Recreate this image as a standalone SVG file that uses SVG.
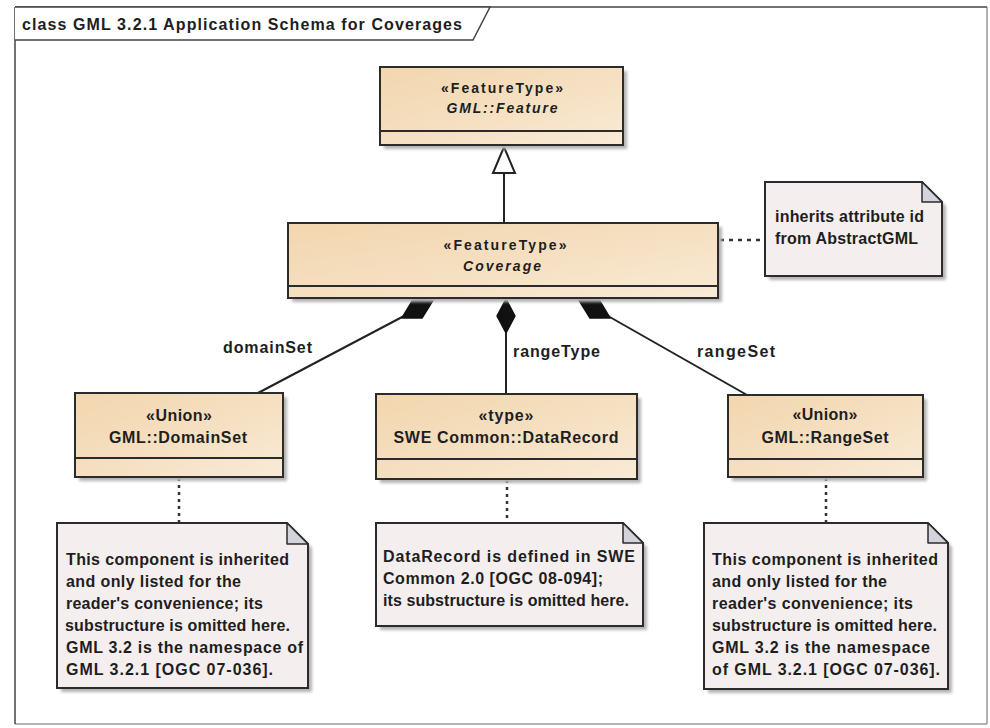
<svg xmlns="http://www.w3.org/2000/svg" width="990" height="728" viewBox="0 0 990 728">
  <defs>
    <linearGradient id="classFill" x1="0" y1="0" x2="1" y2="1">
      <stop offset="0" stop-color="#f2d6ae"/>
      <stop offset="0.6" stop-color="#f6e1c4"/>
      <stop offset="1" stop-color="#f9ebd7"/>
    </linearGradient>
    <filter id="soft" x="-10%" y="-10%" width="120%" height="120%">
      <feGaussianBlur stdDeviation="1.5"/>
    </filter>
    <style>
      .frame { fill: #ffffff; stroke: #444; stroke-width: 1.5; }
      .frameSoft { fill: none; stroke: #9a9a9a; stroke-width: 1.5; }
      .shadow { fill: #b4b4b4; filter: url(#soft); }
      .cls { fill: url(#classFill); stroke: #2b2b2b; stroke-width: 2; }
      .sep { stroke: #2b2b2b; stroke-width: 2; }
      .note { fill: #f4eeee; stroke: #2b2b2b; stroke-width: 2; }
      .ear { fill: #d3d3db; stroke: #2b2b2b; stroke-width: 1.5; stroke-linejoin: round; }
      .line { fill: none; stroke: #222; stroke-width: 2; }
      .dots { fill: none; stroke: #333; stroke-width: 2.5; stroke-dasharray: 3 4; }
      .diamond { fill: #111; stroke: #111; stroke-width: 1.5; stroke-linejoin: round; }
      .hollow { fill: #ffffff; stroke: #222; stroke-width: 2; }
      text { font-family: "Liberation Sans", Arial, sans-serif; font-weight: bold; fill: #1e1e1e; }
      .title { font-size: 16px; }
      .st { font-size: 14px; text-anchor: middle; }
      .nm { font-size: 16px; text-anchor: middle; }
      .it { font-style: italic; }
      .nt { font-size: 16px; }
      .lbl { font-size: 16px; }
    </style>
  </defs>

  <!-- diagram frame with name tab -->
  <g id="frame">
    <rect x="0" y="0" width="990" height="728" fill="#ffffff"/>
    <line class="frameSoft" x1="987" y1="7" x2="987" y2="724"/>
    <line class="frameSoft" x1="15" y1="724" x2="987" y2="724"/>
    <line class="frame" x1="15" y1="7" x2="987" y2="7"/>
    <line class="frame" x1="15" y1="7" x2="15" y2="724"/>
    <path class="frame" d="M15 7 L490 7 L473 40 L15 40"/>
    <text class="title" x="22" y="30" textLength="440">class GML 3.2.1 Application Schema for Coverages</text>
  </g>

  <!-- connectors -->
  <g id="connectors">
    <!-- generalization Coverage -> Feature -->
    <line class="line" x1="504" y1="223" x2="504" y2="173"/>
    <polygon class="hollow" points="504,147 493,173 515,173"/>

    <!-- composition: domainSet -->
    <line class="line" x1="258" y1="393" x2="404" y2="316"/>
    <polygon class="diamond" points="402,318 414,298 435,297 422,318"/>
    <!-- composition: rangeType -->
    <line class="line" x1="506" y1="333" x2="506" y2="394"/>
    <polygon class="diamond" points="506,299 497,316 506,333 515,316"/>
    <!-- composition: rangeSet -->
    <line class="line" x1="747" y1="395" x2="608" y2="316"/>
    <polygon class="diamond" points="610,318 598,298 577,297 590,318"/>

    <!-- note links -->
    <line class="dots" x1="720" y1="240" x2="765" y2="240" style="stroke-dasharray:4 5"/>
    <line class="dots" x1="179" y1="478" x2="179" y2="523"/>
    <line class="dots" x1="507" y1="480" x2="507" y2="523"/>
    <line class="dots" x1="826" y1="478" x2="826" y2="523"/>

    <!-- role names -->
    <text class="lbl" x="223" y="353" textLength="89">domainSet</text>
    <text class="lbl" x="513" y="357" textLength="87">rangeType</text>
    <text class="lbl" x="697" y="357" textLength="78">rangeSet</text>
  </g>

  <!-- GML::Feature -->
  <g id="feature">
    <rect class="shadow" x="384" y="71" width="243" height="78"/>
    <rect class="cls" x="380" y="67" width="243" height="78"/>
    <line class="sep" x1="380" y1="131" x2="623" y2="131"/>
    <text class="st" x="502" y="93" textLength="122">«FeatureType»</text>
    <text class="st it" x="502" y="113" textLength="111">GML::Feature</text>
  </g>

  <!-- Coverage -->
  <g id="coverage">
    <rect class="shadow" x="292" y="227" width="430" height="75"/>
    <rect class="cls" x="288" y="223" width="430" height="75"/>
    <line class="sep" x1="288" y1="286" x2="718" y2="286"/>
    <text class="st" x="505" y="250" textLength="123">«FeatureType»</text>
    <text class="st it" x="502" y="271" textLength="78">Coverage</text>
  </g>

  <!-- note on Coverage -->
  <g id="note-coverage">
    <path class="shadow" d="M769 186 H926 L946 206 V280 H769 Z"/>
    <path class="note" d="M765 182 H922 L942 202 V276 H765 Z"/>
    <path class="ear" d="M922 182 V202 H942 Z"/>
    <text class="nt" x="775" y="222" textLength="149">inherits attribute id</text>
    <text class="nt" x="775" y="244" textLength="143">from AbstractGML</text>
  </g>

  <!-- GML::DomainSet -->
  <g id="domainset">
    <rect class="shadow" x="79" y="397" width="208" height="84"/>
    <rect class="cls" x="75" y="393" width="208" height="84"/>
    <line class="sep" x1="75" y1="458" x2="283" y2="458"/>
    <text class="nm" x="179" y="421" textLength="66">«Union»</text>
    <text class="nm" x="178" y="443" textLength="138">GML::DomainSet</text>
  </g>

  <!-- SWE Common::DataRecord -->
  <g id="datarecord">
    <rect class="shadow" x="380" y="398" width="261" height="85"/>
    <rect class="cls" x="376" y="394" width="261" height="85"/>
    <line class="sep" x1="376" y1="459" x2="637" y2="459"/>
    <text class="nm" x="506" y="421" textLength="55">«type»</text>
    <text class="nm" x="506" y="443" textLength="225">SWE Common::DataRecord</text>
  </g>

  <!-- GML::RangeSet -->
  <g id="rangeset">
    <rect class="shadow" x="732" y="399" width="195" height="82"/>
    <rect class="cls" x="728" y="395" width="195" height="82"/>
    <line class="sep" x1="728" y1="459" x2="923" y2="459"/>
    <text class="nm" x="825" y="420" textLength="65">«Union»</text>
    <text class="nm" x="825" y="443" textLength="127">GML::RangeSet</text>
  </g>

  <!-- note on DomainSet -->
  <g id="note-domainset">
    <path class="shadow" d="M61 527 H291 L312 548 V692 H61 Z"/>
    <path class="note" d="M57 523 H287 L308 544 V688 H57 Z"/>
    <path class="ear" d="M287 523 V544 H308 Z"/>
    <text class="nt" x="66" y="565" textLength="223">This component is inherited</text>
    <text class="nt" x="66" y="587" textLength="175">and only listed for the</text>
    <text class="nt" x="66" y="609" textLength="197">reader's convenience; its</text>
    <text class="nt" x="65" y="631" textLength="225">substructure is omitted here.</text>
    <text class="nt" x="66" y="653" textLength="237">GML 3.2 is the namespace of</text>
    <text class="nt" x="66" y="675" textLength="207">GML 3.2.1 [OGC 07-036].</text>
  </g>

  <!-- note on DataRecord -->
  <g id="note-datarecord">
    <path class="shadow" d="M380 527 H627 L647 547 V630 H380 Z"/>
    <path class="note" d="M376 523 H623 L643 543 V626 H376 Z"/>
    <path class="ear" d="M623 523 V543 H643 Z"/>
    <text class="nt" x="383" y="562" textLength="252">DataRecord is defined in SWE</text>
    <text class="nt" x="383" y="584" textLength="220">Common 2.0 [OGC 08-094];</text>
    <text class="nt" x="383" y="606" textLength="246">its substructure is omitted here.</text>
  </g>

  <!-- note on RangeSet -->
  <g id="note-rangeset">
    <path class="shadow" d="M708 527 H932 L952 547 V693 H708 Z"/>
    <path class="note" d="M704 523 H928 L948 543 V689 H704 Z"/>
    <path class="ear" d="M928 523 V543 H948 Z"/>
    <text class="nt" x="712" y="565" textLength="226">This component is inherited</text>
    <text class="nt" x="712" y="587" textLength="175">and only listed for the</text>
    <text class="nt" x="712" y="609" textLength="201">reader's convenience; its</text>
    <text class="nt" x="712" y="631" textLength="225">substructure is omitted here.</text>
    <text class="nt" x="712" y="653" textLength="218">GML 3.2 is the namespace</text>
    <text class="nt" x="712" y="675" textLength="228">of GML 3.2.1 [OGC 07-036].</text>
  </g>
</svg>
